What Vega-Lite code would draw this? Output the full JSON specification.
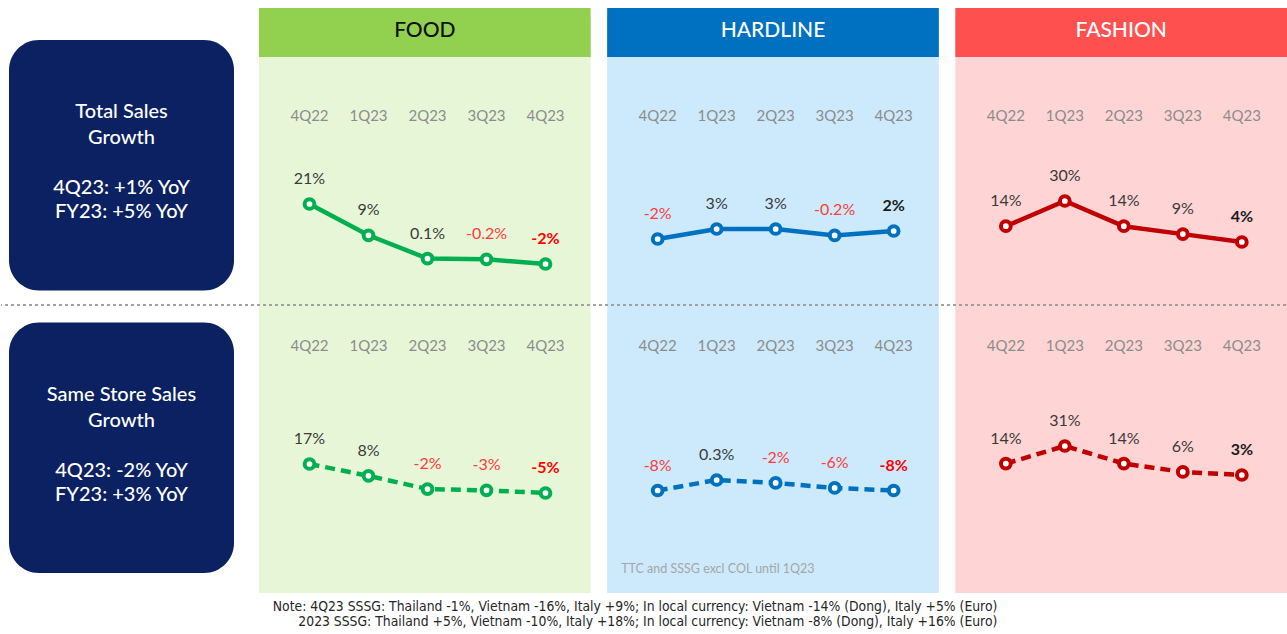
{
  "$schema": "https://vega.github.io/schema/vega-lite/v6.json",
  "width": 1287,
  "height": 634,
  "autosize": {"type": "fit", "contains": "padding"},
  "padding": 0,
  "background": "white",
  "config": {
    "view": {"stroke": null},
    "font": "Lato",
    "locale": {"number": {"decimal": ".", "thousands": ",", "grouping": [3], "currency": ["$", ""], "minus": "-"}}
  },
  "datasets": {
    "series": [
      {"seg": "FOOD", "metric": "Total", "q": "4Q22", "v": 0.21},
      {"seg": "FOOD", "metric": "Total", "q": "1Q23", "v": 0.09},
      {"seg": "FOOD", "metric": "Total", "q": "2Q23", "v": 0.001},
      {"seg": "FOOD", "metric": "Total", "q": "3Q23", "v": -0.002},
      {"seg": "FOOD", "metric": "Total", "q": "4Q23", "v": -0.02},
      {"seg": "HARDLINE", "metric": "Total", "q": "4Q22", "v": -0.02},
      {"seg": "HARDLINE", "metric": "Total", "q": "1Q23", "v": 0.03},
      {"seg": "HARDLINE", "metric": "Total", "q": "2Q23", "v": 0.03},
      {"seg": "HARDLINE", "metric": "Total", "q": "3Q23", "v": -0.002},
      {"seg": "HARDLINE", "metric": "Total", "q": "4Q23", "v": 0.02},
      {"seg": "FASHION", "metric": "Total", "q": "4Q22", "v": 0.14},
      {"seg": "FASHION", "metric": "Total", "q": "1Q23", "v": 0.30},
      {"seg": "FASHION", "metric": "Total", "q": "2Q23", "v": 0.14},
      {"seg": "FASHION", "metric": "Total", "q": "3Q23", "v": 0.09},
      {"seg": "FASHION", "metric": "Total", "q": "4Q23", "v": 0.04},
      {"seg": "FOOD", "metric": "SSSG", "q": "4Q22", "v": 0.17},
      {"seg": "FOOD", "metric": "SSSG", "q": "1Q23", "v": 0.08},
      {"seg": "FOOD", "metric": "SSSG", "q": "2Q23", "v": -0.02},
      {"seg": "FOOD", "metric": "SSSG", "q": "3Q23", "v": -0.03},
      {"seg": "FOOD", "metric": "SSSG", "q": "4Q23", "v": -0.05},
      {"seg": "HARDLINE", "metric": "SSSG", "q": "4Q22", "v": -0.08},
      {"seg": "HARDLINE", "metric": "SSSG", "q": "1Q23", "v": 0.003},
      {"seg": "HARDLINE", "metric": "SSSG", "q": "2Q23", "v": -0.02},
      {"seg": "HARDLINE", "metric": "SSSG", "q": "3Q23", "v": -0.06},
      {"seg": "HARDLINE", "metric": "SSSG", "q": "4Q23", "v": -0.08},
      {"seg": "FASHION", "metric": "SSSG", "q": "4Q22", "v": 0.14},
      {"seg": "FASHION", "metric": "SSSG", "q": "1Q23", "v": 0.31},
      {"seg": "FASHION", "metric": "SSSG", "q": "2Q23", "v": 0.14},
      {"seg": "FASHION", "metric": "SSSG", "q": "3Q23", "v": 0.06},
      {"seg": "FASHION", "metric": "SSSG", "q": "4Q23", "v": 0.03}
    ],
    "segs": [{"seg": "FOOD"}, {"seg": "HARDLINE"}, {"seg": "FASHION"}],
    "rows": [
      {"seg": "FOOD", "metric": "Total"}, {"seg": "FOOD", "metric": "SSSG"},
      {"seg": "HARDLINE", "metric": "Total"}, {"seg": "HARDLINE", "metric": "SSSG"},
      {"seg": "FASHION", "metric": "Total"}, {"seg": "FASHION", "metric": "SSSG"}
    ],
    "boxes": [
      {"metric": "Total", "title": ["Total Sales", "Growth"], "stats": ["4Q23: +1% YoY", "FY23: +5% YoY"]},
      {"metric": "SSSG", "title": ["Same Store Sales", "Growth"], "stats": ["4Q23: -2% YoY", "FY23: +3% YoY"]}
    ],
    "notes": [
      {"note": ["Note: 4Q23 SSSG: Thailand  -1%, Vietnam -16%, Italy +9%; In local currency: Vietnam -14% (Dong), Italy +5% (Euro)", "2023 SSSG: Thailand +5%, Vietnam -10%, Italy +18%; In local currency: Vietnam -8% (Dong), Italy +16% (Euro)"]}
    ],
    "sub": [{"caption": "TTC and SSSG excl COL until 1Q23"}]
  },
  "resolve": {"scale": {"x": "independent", "y": "independent", "color": "independent"}},
  "layer": [
    {
      "data": {"name": "boxes"},
      "encoding": {
        "x": {"datum": "box", "type": "nominal", "scale": {"type": "band", "domain": ["box"], "range": [8, 233], "paddingInner": 0, "paddingOuter": 0}, "axis": null},
        "y": {"field": "metric", "type": "nominal", "scale": {"type": "band", "domain": ["Total", "SSSG"], "range": [40, 573], "paddingInner": 0.113, "paddingOuter": 0}, "axis": null}
      },
      "layer": [
        {"mark": {"type": "rect", "cornerRadius": 30, "color": "#0B2161"}},
        {"mark": {"type": "text", "color": "white", "fontSize": 20, "fontWeight": 500, "lineHeight": 26, "baseline": "middle", "dy": -53}, "encoding": {"text": {"field": "title"}}},
        {"mark": {"type": "text", "color": "white", "fontSize": 20, "fontWeight": 500, "lineHeight": 24, "baseline": "middle", "dy": 23}, "encoding": {"text": {"field": "stats"}}}
      ]
    },
    {
      "resolve": {"scale": {"y": "independent", "color": "independent"}},
      "layer": [
        {
          "data": {"name": "rows"},
          "encoding": {
            "x": {"field": "seg", "type": "nominal", "scale": {"type": "band", "domain": ["FOOD", "HARDLINE", "FASHION"], "range": [258, 1286], "paddingInner": 0.0474, "paddingOuter": 0}, "axis": null},
            "y": {"field": "metric", "type": "nominal", "scale": {"type": "band", "domain": ["Total", "SSSG"], "range": [17, 593], "paddingInner": 0, "paddingOuter": 0}, "axis": null}
          },
          "layer": [
            {"mark": {"type": "rect"}, "encoding": {"color": {"field": "seg", "type": "nominal", "scale": {"domain": ["FOOD", "HARDLINE", "FASHION"], "range": ["#E8F6D8", "#CCEAFC", "#FFD4D4"]}, "legend": null}}},
            {"data": {"name": "segs"}, "mark": {"type": "rule", "color": "#A0A0A0", "strokeWidth": 1.5, "strokeDash": [3, 3]}, "encoding": {"x": null, "y": {"datum": "SSSG", "bandPosition": 0}}},
            {"data": {"name": "notes"}, "mark": {"type": "text", "align": "right", "baseline": "top", "fontSize": 13.8, "lineHeight": 15, "color": "#262626", "font": "Liberation Sans Narrow, DejaVu Sans Condensed, Liberation Sans", "dx": 42, "dy": 7}, "encoding": {"x": {"datum": "FASHION", "bandPosition": 0}, "y": {"datum": "SSSG", "bandPosition": 1}, "text": {"field": "note"}}},
            {"data": {"name": "sub"}, "mark": {"type": "text", "align": "left", "baseline": "middle", "fontSize": 12.5, "color": "#A6A6A6", "dx": 14, "dy": -24}, "encoding": {"x": {"datum": "HARDLINE", "bandPosition": 0}, "y": {"datum": "SSSG", "bandPosition": 1}, "text": {"field": "caption"}}}
          ]
        },
        {
          "data": {"name": "segs"},
          "encoding": {
            "x": {"field": "seg", "type": "nominal", "scale": {"type": "band", "domain": ["FOOD", "HARDLINE", "FASHION"], "range": [258, 1286], "paddingInner": 0.0474, "paddingOuter": 0}, "axis": null},
            "y": {"datum": "hdr", "type": "nominal", "scale": {"type": "band", "domain": ["hdr"], "range": [8, 57], "paddingInner": 0, "paddingOuter": 0}, "axis": null}
          },
          "layer": [
            {"mark": {"type": "rect"}, "encoding": {"color": {"field": "seg", "type": "nominal", "scale": {"domain": ["FOOD", "HARDLINE", "FASHION"], "range": ["#92D050", "#0070C0", "#FF5050"]}, "legend": null}}},
            {"mark": {"type": "text", "fontSize": 21, "fontWeight": 500, "letterSpacing": 1.8, "baseline": "middle", "dy": -2}, "encoding": {"text": {"field": "seg"}, "color": {"condition": {"test": "datum.seg === 'FOOD'", "value": "#111111"}, "value": "#FFFFFF"}}}
          ]
        },
        {
          "data": {"name": "series"},
          "mark": {"type": "text", "fontSize": 15, "color": "#8C8C8C", "baseline": "middle"},
          "encoding": {
            "x": {"field": "seg", "type": "nominal", "scale": {"type": "band", "domain": ["FOOD", "HARDLINE", "FASHION"], "range": [258, 1286], "paddingInner": 0.0474, "paddingOuter": 0}, "axis": null},
            "xOffset": {"field": "q", "type": "nominal", "scale": {"type": "band", "domain": ["4Q22", "1Q23", "2Q23", "3Q23", "4Q23"], "range": [21, 316], "paddingInner": 0, "paddingOuter": 0}},
            "y": {"field": "metric", "type": "nominal", "scale": {"type": "point", "domain": ["Total", "SSSG"], "range": [116, 346], "padding": 0}, "axis": null},
            "text": {"field": "q"}
          }
        },
        {
          "data": {"name": "series"},
          "transform": [{"filter": "datum.seg === 'FOOD' && datum.metric === 'Total'"}],
          "encoding": {
            "x": {"field": "seg", "type": "nominal", "scale": {"type": "band", "domain": ["FOOD", "HARDLINE", "FASHION"], "range": [258, 1286], "paddingInner": 0.0474, "paddingOuter": 0}, "axis": null},
            "xOffset": {"field": "q", "type": "nominal", "scale": {"type": "band", "domain": ["4Q22", "1Q23", "2Q23", "3Q23", "4Q23"], "range": [21, 316], "paddingInner": 0, "paddingOuter": 0}},
            "y": {"field": "v", "type": "quantitative", "scale": {"domain": [-0.02, 0.21], "range": [264, 204], "nice": false, "zero": false}, "axis": null}
          },
          "layer": [
            {"mark": {"type": "line", "color": "#00B050", "strokeWidth": 4.5}},
            {"mark": {"type": "point", "filled": true, "fill": "white", "stroke": "#00B050", "strokeWidth": 4, "size": 95, "opacity": 1}},
            {"transform": [{"filter": "datum.q !== '4Q23'"}], "mark": {"type": "text", "fontSize": 16, "dy": -25, "baseline": "middle"}, "encoding": {"text": {"field": "v", "format": "~%"}, "color": {"condition": {"test": "datum.v < 0", "value": "#FF3B3B"}, "value": "#3A3A3A"}}},
            {"transform": [{"filter": "datum.q === '4Q23'"}], "mark": {"type": "text", "fontSize": 16, "fontWeight": "bold", "dy": -25, "baseline": "middle"}, "encoding": {"text": {"field": "v", "format": "~%"}, "color": {"condition": {"test": "datum.v < 0", "value": "#FF0000"}, "value": "#1A1A1A"}}}
          ]
        },
        {
          "data": {"name": "series"},
          "transform": [{"filter": "datum.seg === 'HARDLINE' && datum.metric === 'Total'"}],
          "encoding": {
            "x": {"field": "seg", "type": "nominal", "scale": {"type": "band", "domain": ["FOOD", "HARDLINE", "FASHION"], "range": [258, 1286], "paddingInner": 0.0474, "paddingOuter": 0}, "axis": null},
            "xOffset": {"field": "q", "type": "nominal", "scale": {"type": "band", "domain": ["4Q22", "1Q23", "2Q23", "3Q23", "4Q23"], "range": [21, 316], "paddingInner": 0, "paddingOuter": 0}},
            "y": {"field": "v", "type": "quantitative", "scale": {"domain": [-0.02, 0.03], "range": [239, 229], "nice": false, "zero": false}, "axis": null}
          },
          "layer": [
            {"mark": {"type": "line", "color": "#0070C0", "strokeWidth": 4.5}},
            {"mark": {"type": "point", "filled": true, "fill": "white", "stroke": "#0070C0", "strokeWidth": 4, "size": 95, "opacity": 1}},
            {"transform": [{"filter": "datum.q !== '4Q23'"}], "mark": {"type": "text", "fontSize": 16, "dy": -25, "baseline": "middle"}, "encoding": {"text": {"field": "v", "format": "~%"}, "color": {"condition": {"test": "datum.v < 0", "value": "#FF3B3B"}, "value": "#3A3A3A"}}},
            {"transform": [{"filter": "datum.q === '4Q23'"}], "mark": {"type": "text", "fontSize": 16, "fontWeight": "bold", "dy": -25, "baseline": "middle"}, "encoding": {"text": {"field": "v", "format": "~%"}, "color": {"condition": {"test": "datum.v < 0", "value": "#FF0000"}, "value": "#1A1A1A"}}}
          ]
        },
        {
          "data": {"name": "series"},
          "transform": [{"filter": "datum.seg === 'FASHION' && datum.metric === 'Total'"}],
          "encoding": {
            "x": {"field": "seg", "type": "nominal", "scale": {"type": "band", "domain": ["FOOD", "HARDLINE", "FASHION"], "range": [258, 1286], "paddingInner": 0.0474, "paddingOuter": 0}, "axis": null},
            "xOffset": {"field": "q", "type": "nominal", "scale": {"type": "band", "domain": ["4Q22", "1Q23", "2Q23", "3Q23", "4Q23"], "range": [21, 316], "paddingInner": 0, "paddingOuter": 0}},
            "y": {"field": "v", "type": "quantitative", "scale": {"domain": [0.04, 0.30], "range": [242, 201], "nice": false, "zero": false}, "axis": null}
          },
          "layer": [
            {"mark": {"type": "line", "color": "#C00000", "strokeWidth": 4.5}},
            {"mark": {"type": "point", "filled": true, "fill": "white", "stroke": "#C00000", "strokeWidth": 4, "size": 95, "opacity": 1}},
            {"transform": [{"filter": "datum.q !== '4Q23'"}], "mark": {"type": "text", "fontSize": 16, "dy": -25, "baseline": "middle"}, "encoding": {"text": {"field": "v", "format": "~%"}, "color": {"condition": {"test": "datum.v < 0", "value": "#FF3B3B"}, "value": "#3A3A3A"}}},
            {"transform": [{"filter": "datum.q === '4Q23'"}], "mark": {"type": "text", "fontSize": 16, "fontWeight": "bold", "dy": -25, "baseline": "middle"}, "encoding": {"text": {"field": "v", "format": "~%"}, "color": {"condition": {"test": "datum.v < 0", "value": "#FF0000"}, "value": "#1A1A1A"}}}
          ]
        },
        {
          "data": {"name": "series"},
          "transform": [{"filter": "datum.seg === 'FOOD' && datum.metric === 'SSSG'"}],
          "encoding": {
            "x": {"field": "seg", "type": "nominal", "scale": {"type": "band", "domain": ["FOOD", "HARDLINE", "FASHION"], "range": [258, 1286], "paddingInner": 0.0474, "paddingOuter": 0}, "axis": null},
            "xOffset": {"field": "q", "type": "nominal", "scale": {"type": "band", "domain": ["4Q22", "1Q23", "2Q23", "3Q23", "4Q23"], "range": [21, 316], "paddingInner": 0, "paddingOuter": 0}},
            "y": {"field": "v", "type": "quantitative", "scale": {"domain": [-0.05, 0.17], "range": [493, 464], "nice": false, "zero": false}, "axis": null}
          },
          "layer": [
            {"mark": {"type": "line", "color": "#00B050", "strokeWidth": 4.5, "strokeDash": [10, 6]}},
            {"mark": {"type": "point", "filled": true, "fill": "white", "stroke": "#00B050", "strokeWidth": 4, "size": 95, "opacity": 1}},
            {"transform": [{"filter": "datum.q !== '4Q23'"}], "mark": {"type": "text", "fontSize": 16, "dy": -25, "baseline": "middle"}, "encoding": {"text": {"field": "v", "format": "~%"}, "color": {"condition": {"test": "datum.v < 0", "value": "#FF3B3B"}, "value": "#3A3A3A"}}},
            {"transform": [{"filter": "datum.q === '4Q23'"}], "mark": {"type": "text", "fontSize": 16, "fontWeight": "bold", "dy": -25, "baseline": "middle"}, "encoding": {"text": {"field": "v", "format": "~%"}, "color": {"condition": {"test": "datum.v < 0", "value": "#FF0000"}, "value": "#1A1A1A"}}}
          ]
        },
        {
          "data": {"name": "series"},
          "transform": [{"filter": "datum.seg === 'HARDLINE' && datum.metric === 'SSSG'"}],
          "encoding": {
            "x": {"field": "seg", "type": "nominal", "scale": {"type": "band", "domain": ["FOOD", "HARDLINE", "FASHION"], "range": [258, 1286], "paddingInner": 0.0474, "paddingOuter": 0}, "axis": null},
            "xOffset": {"field": "q", "type": "nominal", "scale": {"type": "band", "domain": ["4Q22", "1Q23", "2Q23", "3Q23", "4Q23"], "range": [21, 316], "paddingInner": 0, "paddingOuter": 0}},
            "y": {"field": "v", "type": "quantitative", "scale": {"domain": [-0.08, 0.003], "range": [490.5, 480], "nice": false, "zero": false}, "axis": null}
          },
          "layer": [
            {"mark": {"type": "line", "color": "#0070C0", "strokeWidth": 4.5, "strokeDash": [10, 6]}},
            {"mark": {"type": "point", "filled": true, "fill": "white", "stroke": "#0070C0", "strokeWidth": 4, "size": 95, "opacity": 1}},
            {"transform": [{"filter": "datum.q !== '4Q23'"}], "mark": {"type": "text", "fontSize": 16, "dy": -25, "baseline": "middle"}, "encoding": {"text": {"field": "v", "format": "~%"}, "color": {"condition": {"test": "datum.v < 0", "value": "#FF3B3B"}, "value": "#3A3A3A"}}},
            {"transform": [{"filter": "datum.q === '4Q23'"}], "mark": {"type": "text", "fontSize": 16, "fontWeight": "bold", "dy": -25, "baseline": "middle"}, "encoding": {"text": {"field": "v", "format": "~%"}, "color": {"condition": {"test": "datum.v < 0", "value": "#FF0000"}, "value": "#1A1A1A"}}}
          ]
        },
        {
          "data": {"name": "series"},
          "transform": [{"filter": "datum.seg === 'FASHION' && datum.metric === 'SSSG'"}],
          "encoding": {
            "x": {"field": "seg", "type": "nominal", "scale": {"type": "band", "domain": ["FOOD", "HARDLINE", "FASHION"], "range": [258, 1286], "paddingInner": 0.0474, "paddingOuter": 0}, "axis": null},
            "xOffset": {"field": "q", "type": "nominal", "scale": {"type": "band", "domain": ["4Q22", "1Q23", "2Q23", "3Q23", "4Q23"], "range": [21, 316], "paddingInner": 0, "paddingOuter": 0}},
            "y": {"field": "v", "type": "quantitative", "scale": {"domain": [0.03, 0.31], "range": [475, 446], "nice": false, "zero": false}, "axis": null}
          },
          "layer": [
            {"mark": {"type": "line", "color": "#C00000", "strokeWidth": 4.5, "strokeDash": [10, 6]}},
            {"mark": {"type": "point", "filled": true, "fill": "white", "stroke": "#C00000", "strokeWidth": 4, "size": 95, "opacity": 1}},
            {"transform": [{"filter": "datum.q !== '4Q23'"}], "mark": {"type": "text", "fontSize": 16, "dy": -25, "baseline": "middle"}, "encoding": {"text": {"field": "v", "format": "~%"}, "color": {"condition": {"test": "datum.v < 0", "value": "#FF3B3B"}, "value": "#3A3A3A"}}},
            {"transform": [{"filter": "datum.q === '4Q23'"}], "mark": {"type": "text", "fontSize": 16, "fontWeight": "bold", "dy": -25, "baseline": "middle"}, "encoding": {"text": {"field": "v", "format": "~%"}, "color": {"condition": {"test": "datum.v < 0", "value": "#FF0000"}, "value": "#1A1A1A"}}}
          ]
        }
      ]
    }
  ]
}
